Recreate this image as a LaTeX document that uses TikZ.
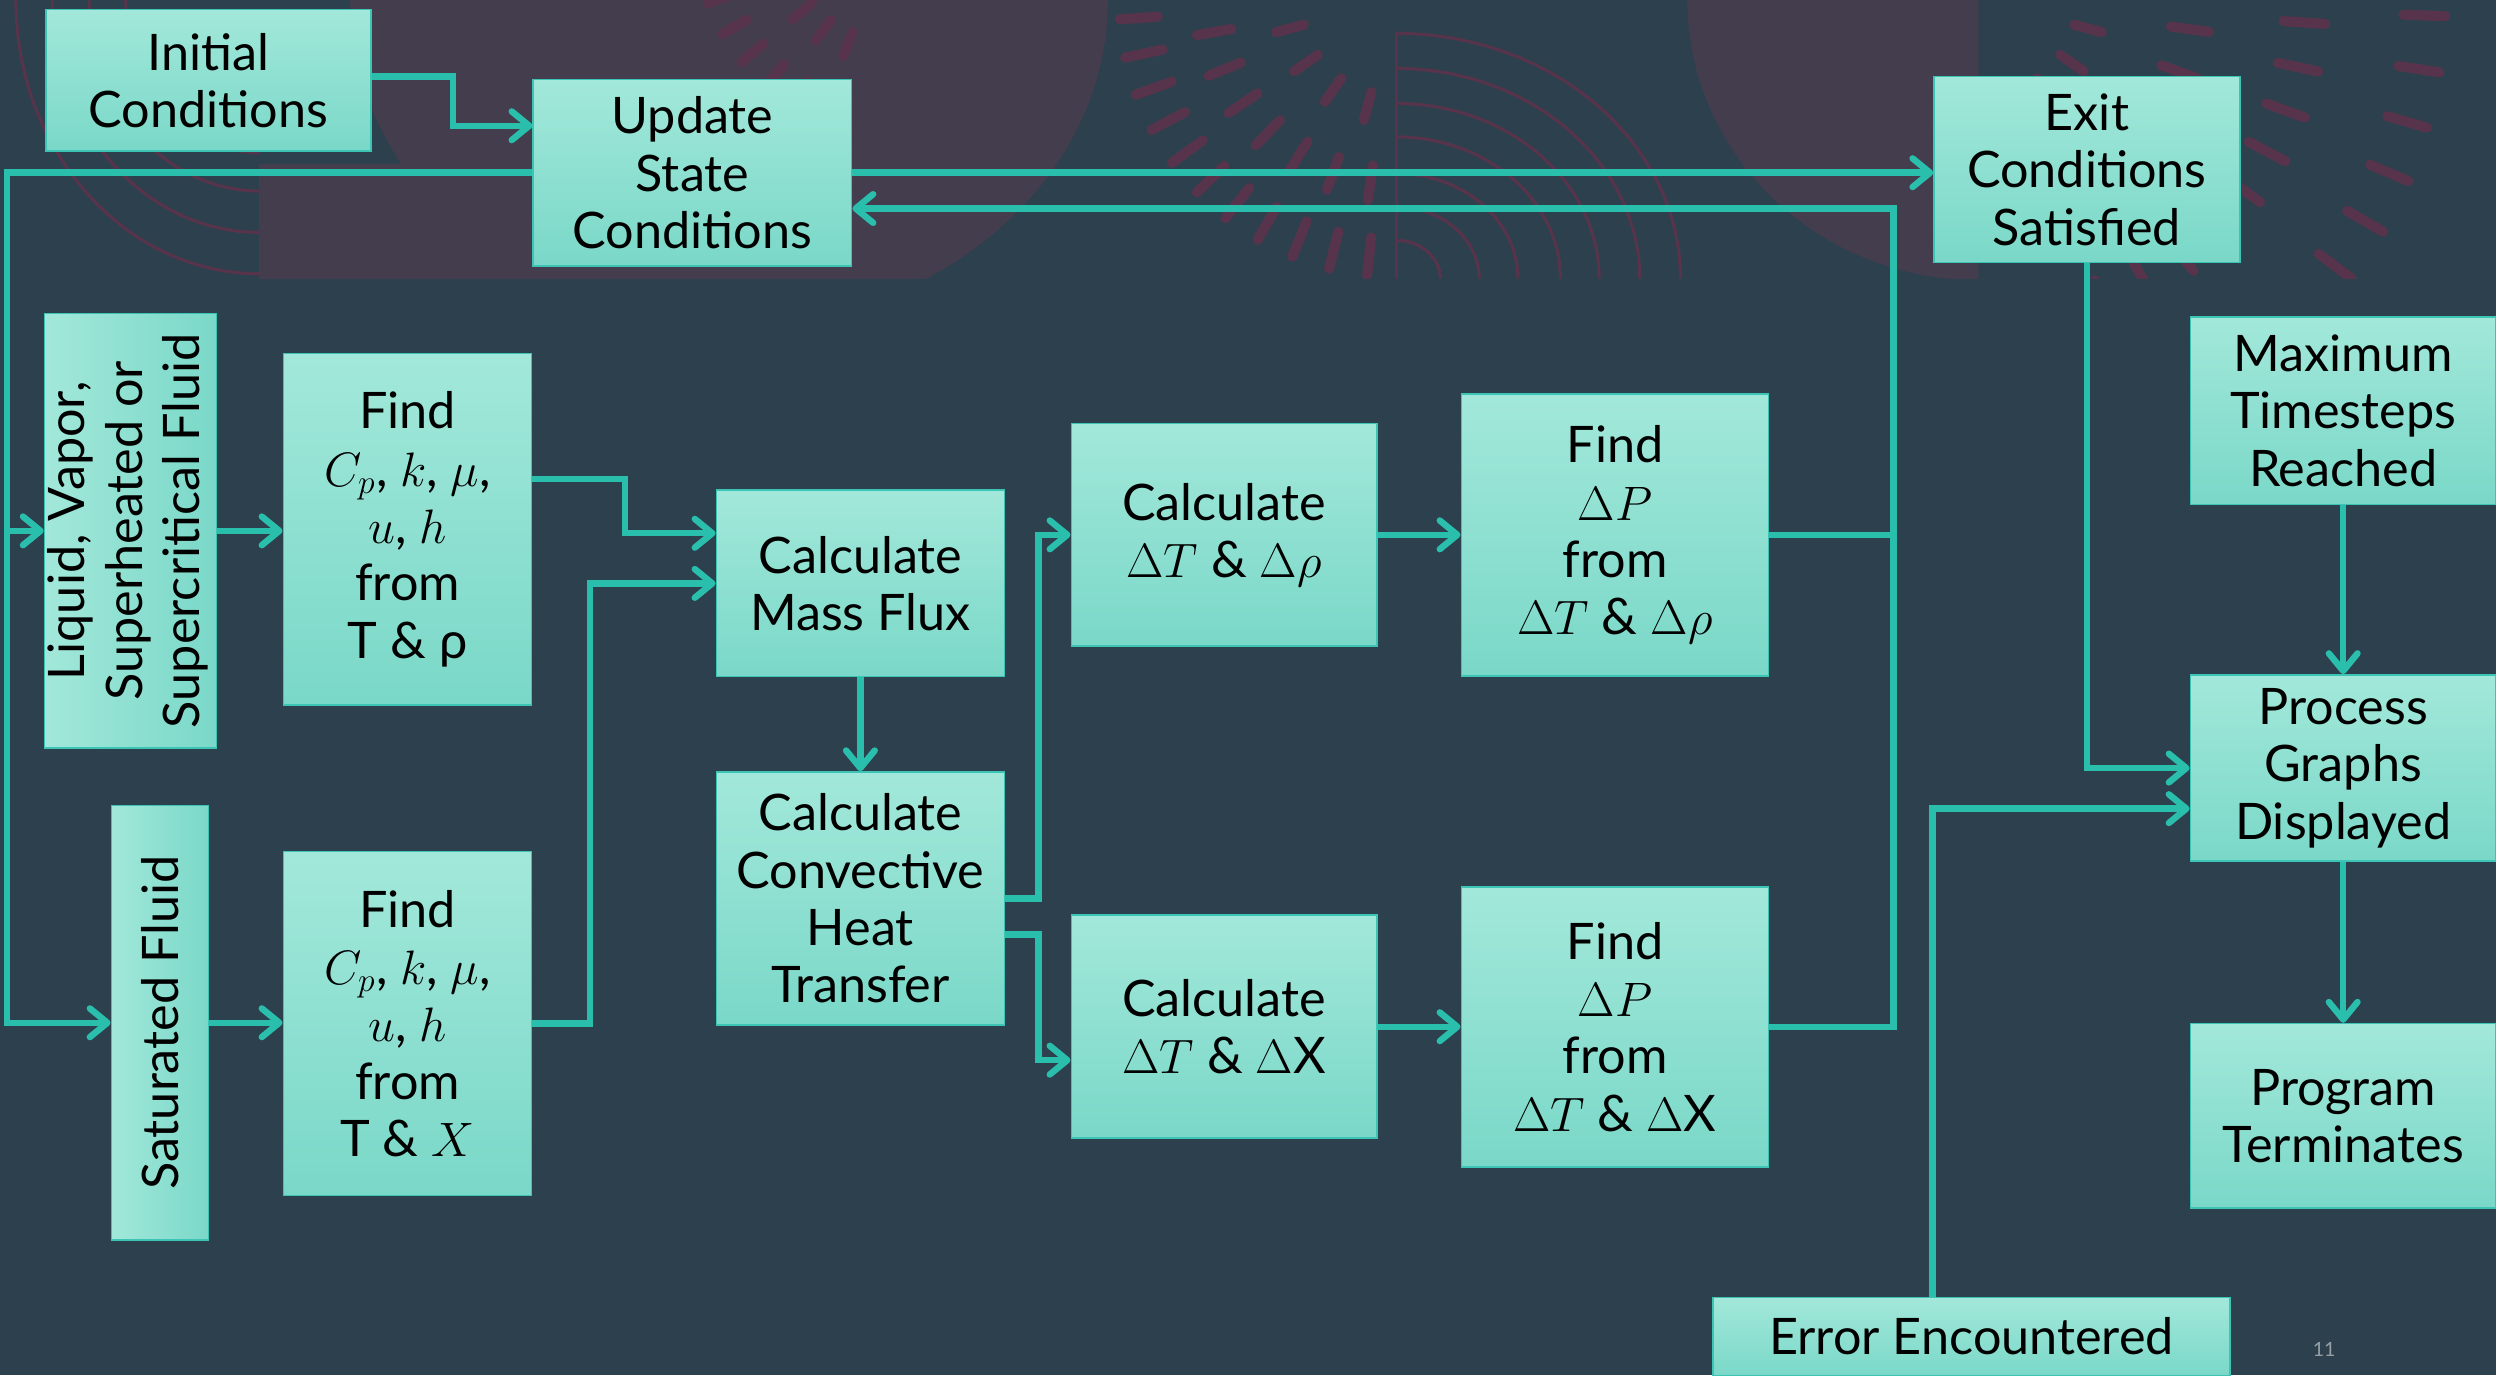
\documentclass[tikz,border=0pt]{standalone}
\usepackage{fontspec}
\setmainfont{Lato}
\usepackage{tikz}
\usetikzlibrary{positioning, calc, arrows.meta}

\definecolor{fondo}{RGB}{45,64,77}
\definecolor{tinta}{RGB}{42,190,172}
\definecolor{cajasup}{RGB}{162,232,218}
\definecolor{cajainf}{RGB}{122,216,200}
\definecolor{borde}{RGB}{60,196,180}
\definecolor{morado}{RGB}{67,61,77}
\definecolor{rosa}{RGB}{88,52,76}
\definecolor{numgris}{RGB}{150,160,165}

\begin{document}
\begin{tikzpicture}[
		x=0.02cm, y=-0.02cm,
		% --- CAJAS DEL DIAGRAMA ---
		step_box/.style={
			rectangle,
			draw=borde,
			line width=0.6pt,
			top color=cajasup,
			bottom color=cajainf,
			inner sep=0pt,
			align=center,
			text=black,
			font=\fontsize{18}{20.5}\selectfont
		},
		% cajas con el texto en vertical
		side_box/.style={
			rectangle,
			draw=borde,
			line width=0.6pt,
			left color=cajasup,
			right color=cajainf,
			inner sep=0pt,
			text=black,
			font=\fontsize{18}{20.5}\selectfont
		},
		flow_line/.style={
			draw=tinta,
			line width=2.3pt
		},
		flow_arrow/.style={
			flow_line,
			-{Straight Barb[length=2.2mm, width=3.6mm, round]}
		},
		deco_dash/.style={rosa, line width=3.6pt, line cap=round},
		deco_arc/.style={rosa, line width=1.1pt}
		]
		
		\fill[fondo] (0,0) rectangle (1568,864);
		\useasboundingbox (0,0) rectangle (1568,864);
		
		% --- FONDO DECORATIVO (banda superior) ---
		\begin{scope}
			\clip (0,0) rectangle (1568,175);
			\fill[morado] (163,103) rectangle (340,175);
			\fill[morado] (458,0) ellipse [x radius=238, y radius=205];
			\fill[morado] (1243,0) -- (1060,0) arc[start angle=180, end angle=90, x radius=183, y radius=176] -- cycle;
			% arcos concentricos
			\foreach \rx/\ry in {153/172, 130/146, 107/120, 84/96}
				\draw[deco_arc] (163-\rx,0) arc[start angle=180, end angle=90, x radius=\rx, y radius=\ry];
			\draw[deco_arc] (877,20) -- (877,175);
			\foreach \ry in {24,45,66,89,110,132,154}
				\draw[deco_arc] (877,175-\ry) arc[start angle=270, end angle=360, x radius={1.16*\ry}, y radius=\ry];
			% abanicos de trazos
			\foreach \a in {105,125,...,165}
				\draw[deco_dash] (877,0) ++(\a:60) -- ++(\a:18);
			\foreach \a in {98,110,...,170}
				\draw[deco_dash] (877,0) ++(\a:105) -- ++(\a:22);
			\foreach \a in {96,104,...,176}
				\draw[deco_dash] (877,0) ++(\a:150) -- ++(\a:24);
			\foreach \a in {112,126,...,168}
				\draw[deco_dash] (560,-40) ++(\a:65) -- ++(\a:16);
			\foreach \a in {110,120,...,160}
				\draw[deco_dash] (560,-40) ++(\a:105) -- ++(\a:18);
			\foreach \a in {15,35,...,85}
				\draw[deco_dash] (1245,0) ++(\a:60) -- ++(\a:18);
			\foreach \a in {8,20,...,88}
				\draw[deco_dash] (1245,0) ++(\a:120) -- ++(\a:24);
			\foreach \a in {4,12,...,84}
				\draw[deco_dash] (1245,0) ++(\a:190) -- ++(\a:26);
			\foreach \a in {2,9,...,40}
				\draw[deco_dash] (1245,0) ++(\a:265) -- ++(\a:26);
		\end{scope}
		
		% --- INICIO Y ACTUALIZACION ---
		\node (inicial) [step_box, minimum width=4.08cm, minimum height=1.78cm] at (131,50.5) {Initial\\Conditions};
		\node (update) [step_box, minimum width=4cm, minimum height=2.34cm] at (435,108.5) {Update\\State\\Conditions};
		\node (exit) [step_box, minimum width=3.84cm, minimum height=2.34cm] at (1311,106.5) {Exit\\Conditions\\Satisfied};
		
		% --- TIPO DE FLUIDO ---
		\node (liquid) [side_box, minimum width=2.12cm, minimum height=5.46cm] at (82,333.5) {\rotatebox{90}{\begin{tabular}{@{}c@{}}Liquid, Vapor,\\Superheated or\\Supercritical Fluid\end{tabular}}};
		\node (saturated) [side_box, minimum width=1.22cm, minimum height=5.46cm] at (100.5,642.5) {\rotatebox{90}{Saturated Fluid}};
		
		% --- PROPIEDADES ---
		\node (propsup) [step_box, minimum width=3.12cm, minimum height=4.42cm] at (256,332.5) {Find\\$C_p$, $k$, $\mu$,\\$u$, $h$\\from\\T \& ρ};
		\node (propinf) [step_box, minimum width=3.12cm, minimum height=4.32cm, below=1.82cm of propsup] {Find\\$C_p$, $k$, $\mu$,\\$u$, $h$\\from\\T \& $X$};
		
		% --- FLUJO Y CALOR ---
		\node (massflux) [step_box, minimum width=3.62cm, minimum height=2.34cm] at (540.5,366.5) {Calculate\\Mass Flux};
		\node (conv) [step_box, minimum width=3.62cm, minimum height=3.18cm, below=1.18cm of massflux] {Calculate\\Convective\\Heat\\Transfer};
		
		% --- INCREMENTOS ---
		\node (dtrho) [step_box, minimum width=3.84cm, minimum height=2.8cm] at (769,336) {Calculate\\$\Delta T$ \& $\Delta\rho$};
		\node (dprho) [step_box, minimum width=3.86cm, minimum height=3.54cm, right=1.04cm of dtrho] {Find\\$\Delta P$\\from\\$\Delta T$ \& $\Delta\rho$};
		\node (dtx) [step_box, minimum width=3.84cm, minimum height=2.8cm, below=3.36cm of dtrho] {Calculate\\$\Delta T$ \& $\Delta$X};
		\node (dpx) [step_box, minimum width=3.86cm, minimum height=3.52cm, right=1.04cm of dtx] {Find\\$\Delta P$\\from\\$\Delta T$ \& $\Delta$X};
		
		% --- FINAL ---
		\node (maxstep) [step_box, minimum width=3.84cm, minimum height=2.36cm] at (1472,258) {Maximum\\Timesteps\\Reached};
		\node (graphs) [step_box, minimum width=3.84cm, minimum height=2.34cm, below=2.12cm of maxstep] {Process\\Graphs\\Displayed};
		\node (fin) [step_box, minimum width=3.84cm, minimum height=2.32cm, below=2.02cm of graphs] {Program\\Terminates};
		\node (error) [step_box, minimum width=6.5cm, minimum height=0.98cm] at (1238.5,839.5) {Error Encountered};
		\node (pagina) at (1460,848) [text=numgris, font=\fontsize{7}{8}\selectfont] {11};
		
		% --- CONEXIONES ---
		\draw [flow_arrow] ([yshift=0.05cm]inicial.east) -- ++(51,0) |- ([yshift=0.59cm]update.west);
		\draw [flow_arrow] (update.west) -- ++(-330,0) coordinate (bus) |- (saturated.west);
		\draw [flow_arrow] (bus |- liquid.west) -- (liquid.west);
		\draw [flow_arrow] (update.east) -- (update.east -| exit.west);
		\draw [flow_arrow] (liquid.east) -- (liquid.east -| propsup.west);
		\draw [flow_arrow] (saturated.east) -- (saturated.east -| propinf.west);
		\draw [flow_arrow] ([yshift=0.63cm]propsup.east) -- ++(58,0) |- ([yshift=0.63cm]massflux.west);
		\draw [flow_arrow] (propinf.east) -- ++(36,0) |- (massflux.west);
		\draw [flow_arrow] (massflux) -- (conv);
		\draw [flow_arrow] (conv.east) -- ++(21,0) |- (dtrho.west);
		\draw [flow_arrow] ([yshift=-0.45cm]conv.east) -- ++(21,0) |- ([yshift=-0.42cm]dtx.west);
		\draw [flow_arrow] (dtrho.east) -- (dtrho.east -| dprho.west);
		\draw [flow_arrow] (dtx.east) -- (dtx.east -| dpx.west);
		% retorno al paso de actualizacion
		\draw [flow_line] (dprho.east) -- ++(78,0);
		\draw [flow_arrow] (dpx.east) -- ++(78,0) |- ([yshift=-0.45cm]update.east);
		% salida del programa
		\draw [flow_arrow] (exit.south) |- (graphs.west);
		\draw [flow_arrow] ([xshift=-0.49cm]error.north) |- ([yshift=-0.51cm]graphs.west);
		\draw [flow_arrow] (maxstep) -- (graphs);
		\draw [flow_arrow] (graphs) -- (fin);
		
	\end{tikzpicture}
\end{document}
